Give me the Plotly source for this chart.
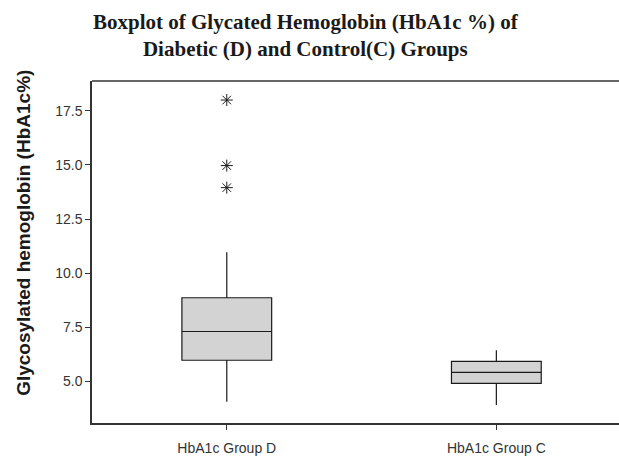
import plotly.graph_objects as go

categories = ["HbA1c Group D", "HbA1c Group C"]
q1 = [5.97, 4.90]
median = [7.30, 5.41]
q3 = [8.86, 5.92]
lower_whisker = [4.05, 3.90]
upper_whisker = [10.96, 6.43]
outlier_x = ["HbA1c Group D", "HbA1c Group D", "HbA1c Group D"]
outlier_y = [18.0, 14.97, 13.95]
y_ticks = [5.0, 7.5, 10.0, 12.5, 15.0, 17.5]

fig = go.Figure()
fig.add_trace(go.Box(
    x=categories, q1=q1, median=median, q3=q3,
    lowerfence=lower_whisker, upperfence=upper_whisker,
    fillcolor="#d3d3d3", line=dict(color="#1a1a1a", width=1.2),
    width=0.333, whiskerwidth=0, boxpoints=False, showlegend=False, hoverinfo="y",
))
fig.add_trace(go.Scatter(
    x=outlier_x, y=outlier_y, mode="markers",
    marker=dict(symbol="asterisk-open", size=10, color="#1a1a1a",
                line=dict(color="#1a1a1a", width=1)),
    showlegend=False,
))

axis_font = dict(family="Liberation Sans, Arial, sans-serif", size=14, color="#333333")
fig.update_layout(
    width=619, height=459,
    margin=dict(l=92, r=0, t=81, b=36),
    paper_bgcolor="white", plot_bgcolor="white",
    xaxis=dict(
        type="category", categoryorder="array", categoryarray=categories,
        range=[-0.5, 1.455], showline=True, linecolor="#333333", linewidth=1.5,
        mirror=False, ticks="outside", ticklen=5, tickcolor="#333333",
        showgrid=False, zeroline=False, tickfont=axis_font, ticklabelstandoff=6,
    ),
    yaxis=dict(
        range=[3.07, 18.88], tickvals=y_ticks, ticktext=[f"{v:.1f}" for v in y_ticks],
        showline=True, linecolor="#333333", linewidth=1.5,
        ticks="outside", ticklen=5, tickcolor="#333333",
        showgrid=False, zeroline=False, tickfont=axis_font,
    ),
    shapes=[dict(type="line", xref="paper", yref="paper", x0=0, x1=1, y0=1, y1=1,
                 line=dict(color="#333333", width=1.5))],
    annotations=[
        dict(
            text="<b>Boxplot of Glycated Hemoglobin (HbA1c %) of<br>Diabetic (D) and Control(C) Groups</b>",
            xref="paper", yref="paper", x=0.406, y=1.212, xanchor="center", yanchor="top",
            showarrow=False, align="center",
            font=dict(family="Liberation Serif, Times New Roman, serif", size=21, color="#1a1a1a"),
        ),
        dict(
            text="<b>Glycosylated hemoglobin (HbA1c%)</b>", textangle=-90,
            xref="paper", yref="paper", x=-0.129, y=0.556, xanchor="center", yanchor="middle",
            showarrow=False,
            font=dict(family="Liberation Sans, Arial, sans-serif", size=19, color="#1a1a1a"),
        ),
    ],
)

fig.write_html(
    "out.html",
    config={"displayModeBar": False},
    post_script="document.body.style.margin='0';document.body.style.overflow='hidden';",
)
